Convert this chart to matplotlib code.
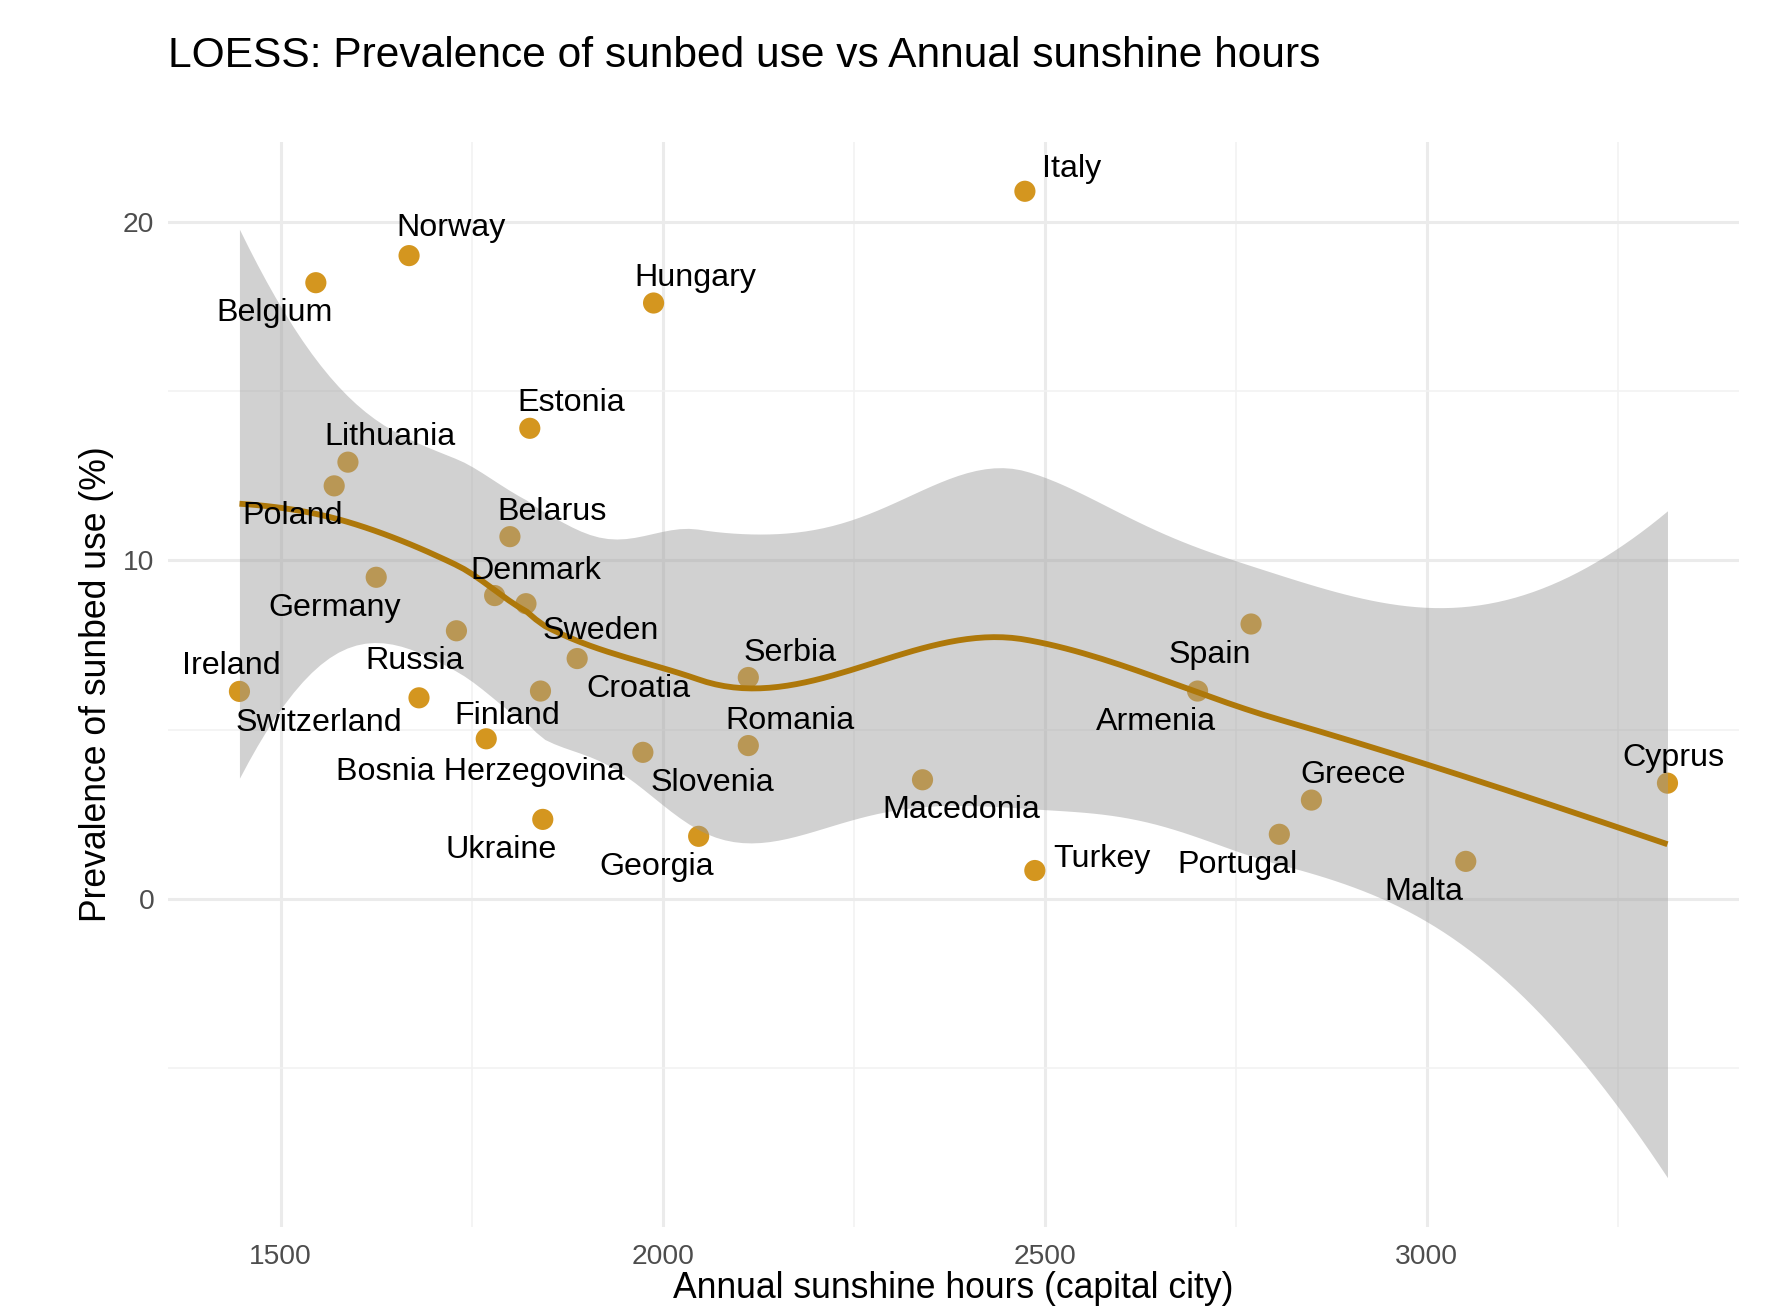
import numpy as np
import matplotlib
matplotlib.use("Agg")
import matplotlib.pyplot as plt
from matplotlib.ticker import MultipleLocator

plt.rcParams['font.family'] = ['Liberation Sans', 'DejaVu Sans']

# Sunbed use prevalence vs sunshine hours of the capital city
countries = ['Italy', 'Norway', 'Belgium', 'Hungary', 'Estonia', 'Lithuania',
             'Poland', 'Belarus', 'Germany', 'Denmark', 'Sweden', 'Russia',
             'Croatia', 'Ireland', 'Switzerland', 'Finland', 'Serbia',
             'Bosnia Herzegovina', 'Romania', 'Slovenia', 'Macedonia', 'Ukraine',
             'Georgia', 'Turkey', 'Spain', 'Armenia', 'Greece', 'Portugal',
             'Malta', 'Cyprus']
sunshine = [2474, 1668, 1546, 1988, 1826, 1588,
            1570, 1800, 1625, 1780, 1821, 1730,
            1888, 1446, 1681, 1840, 2112,
            1769, 2112, 1974, 2340, 1843,
            2047, 2487, 2770, 2700, 2849, 2807,
            3051, 3315]
prevalence = [20.9, 19.0, 18.2, 17.6, 13.9, 12.9,
              12.2, 10.7, 9.5, 8.96, 8.72, 7.92,
              7.1, 6.13, 5.94, 6.14, 6.54,
              4.73, 4.53, 4.33, 3.52, 2.35,
              1.85, 0.84, 8.12, 6.14, 2.92, 1.91,
              1.11, 3.42]

# label offsets from each point, in points (repel-style placement)
label_offset = {
    'Italy': (17, 8), 'Norway': (15, 10), 'Belgium': (-15, -11),
    'Hungary': (15, 9), 'Estonia': (15, 9), 'Lithuania': (15, 9),
    'Poland': (-15, -11), 'Belarus': (15, 9), 'Germany': (-15, -11),
    'Denmark': (15, 9), 'Sweden': (27, -10), 'Russia': (-15, -11),
    'Croatia': (22, -11), 'Ireland': (-3, 9), 'Switzerland': (-36, -9),
    'Finland': (-12, -9), 'Serbia': (15, 9), 'Bosnia Herzegovina': (-2, -12),
    'Romania': (15, 9), 'Slovenia': (25, -11), 'Macedonia': (14, -11),
    'Ukraine': (-15, -11), 'Georgia': (-15, -11), 'Turkey': (24, 4),
    'Spain': (-15, -11), 'Armenia': (-15, -11), 'Greece': (15, 9),
    'Portugal': (-15, -11), 'Malta': (-15, -11), 'Cyprus': (2, 9),
}

x = np.array(sunshine, dtype=float)
y = np.array(prevalence, dtype=float)
SPAN = 0.75


def local_rows(x0, x, span=SPAN):
    # local quadratic fit with tricube weights: operator rows for value and slope
    n = len(x)
    q = int(np.floor(n * span))
    d = np.abs(x - x0)
    h = np.sort(d)[q - 1]
    u = np.clip(d / h, 0, 1)
    w = (1 - u ** 3) ** 3
    t = (x - x0) / 1000.0
    X = np.column_stack([np.ones(n), t, t ** 2])
    XtW = X.T * w
    B = np.linalg.solve(XtW @ X, XtW)
    return B[0], B[1] / 1000.0


def kd_vertices(x, span=SPAN, cell=0.2):
    # 1-d kd tree cut points, as used by the interpolating loess surface
    xs = np.sort(x)
    n = len(xs)
    fc = int(np.floor(n * span * cell))
    mu = 0.005 * (xs[-1] - xs[0])
    verts = {xs[0] - mu, xs[-1] + mu}
    stack = [(0, n - 1, xs[0] - mu, xs[-1] + mu)]
    while stack:
        lo, hi, vlo, vhi = stack.pop()
        if hi - lo + 1 <= fc:
            continue
        m = (lo + hi) // 2
        off = 0
        while lo <= m + off < hi:
            if xs[m + off] == xs[m + off + 1]:
                off = -off
                if off >= 0:
                    off += 1
            else:
                m += off
                break
        cut = xs[m]
        if cut == vlo or cut == vhi:
            continue
        verts.add(cut)
        stack.append((lo, m, vlo, cut))
        stack.append((m + 1, hi, cut, vhi))
    return np.array(sorted(verts))


def loess_operator(x_eval, x):
    # Hermite interpolation of vertex fits between kd-tree cut points
    verts = kd_vertices(x)
    vals, slopes = zip(*[local_rows(v, x) for v in verts])
    vals, slopes = np.array(vals), np.array(slopes)
    L = np.zeros((len(x_eval), len(x)))
    for k, xe in enumerate(x_eval):
        j = np.clip(np.searchsorted(verts, xe) - 1, 0, len(verts) - 2)
        v0, v1 = verts[j], verts[j + 1]
        hw = v1 - v0
        s = (xe - v0) / hw
        h00 = 2 * s ** 3 - 3 * s ** 2 + 1
        h10 = s ** 3 - 2 * s ** 2 + s
        h01 = -2 * s ** 3 + 3 * s ** 2
        h11 = s ** 3 - s ** 2
        L[k] = h00 * vals[j] + h10 * hw * slopes[j] + h01 * vals[j + 1] + h11 * hw * slopes[j + 1]
    return L


def t_quantile(df, z=1.959963985):
    # Cornish-Fisher expansion of the Student t quantile
    g1 = (z ** 3 + z) / 4
    g2 = (5 * z ** 5 + 16 * z ** 3 + 3 * z) / 96
    g3 = (3 * z ** 7 + 19 * z ** 5 + 17 * z ** 3 - 15 * z) / 384
    g4 = (79 * z ** 9 + 776 * z ** 7 + 1482 * z ** 5 - 1920 * z ** 3 - 945 * z) / 92160
    return z + g1 / df + g2 / df ** 2 + g3 / df ** 3 + g4 / df ** 4


# smoother statistics at the data points
L_fit = loess_operator(x, x)
resid = y - L_fit @ y
M = np.eye(len(x)) - L_fit
R = M.T @ M
one_delta = np.trace(R)
two_delta = np.trace(R @ R)
sigma = np.sqrt(np.sum(resid ** 2) / one_delta)
df_res = one_delta ** 2 / two_delta

xs = np.linspace(x.min(), x.max(), 160)
L_grid = loess_operator(xs, x)
fit = L_grid @ y
se = sigma * np.sqrt(np.sum(L_grid ** 2, axis=1))
tq = t_quantile(df_res)
lower = fit - tq * se
upper = fit + tq * se

fig = plt.figure(figsize=(8.91, 6.56), dpi=200)
ax = fig.add_axes([0.0943, 0.0648, 0.8815, 0.827])

ax.scatter(x, y, s=58, color='#D4961F', edgecolors='none', zorder=2)
ax.fill_between(xs, lower, upper, color='#999999', alpha=0.45, linewidth=0, zorder=3)
ax.plot(xs, fit, color='#AE780A', linewidth=2.1, zorder=4, solid_capstyle='butt')

for name, px, py in zip(countries, x, y):
    dx, dy = label_offset[name]
    ax.annotate(name, (px, py), xytext=(dx, dy), textcoords='offset points',
                ha='center', va='center', fontsize=11.6, color='black', zorder=5)

# axis ranges with 5% padding around data and band
ymin = min(y.min(), lower.min())
ymax = max(y.max(), upper.max())
ax.set_xlim(x.min() - 0.05 * np.ptp(x), x.max() + 0.05 * np.ptp(x))
ax.set_ylim(ymin - 0.05 * (ymax - ymin), ymax + 0.05 * (ymax - ymin))

ax.xaxis.set_major_locator(MultipleLocator(500))
ax.xaxis.set_minor_locator(MultipleLocator(250))
ax.yaxis.set_major_locator(MultipleLocator(10))
ax.yaxis.set_minor_locator(MultipleLocator(5))
ax.grid(which='major', color='#EBEBEB', linewidth=1.1, zorder=0)
ax.grid(which='minor', color='#F2F2F2', linewidth=0.6, zorder=0)
ax.set_axisbelow(True)
for sp in ax.spines.values():
    sp.set_visible(False)
ax.tick_params(which='both', length=0, labelsize=10.2, labelcolor='#4D4D4D')
ax.tick_params(axis='x', pad=6)
ax.tick_params(axis='y', pad=5)

ax.set_xlabel('Annual sunshine hours (capital city)', fontsize=12.8, labelpad=0.5)
ax.set_ylabel('Prevalence of sunbed use (%)', fontsize=12.8, labelpad=3)
ax.set_title('LOESS: Prevalence of sunbed use vs Annual sunshine hours',
             fontsize=15.3, loc='left', pad=27)

fig.savefig('out.png', dpi=200, facecolor='white')
